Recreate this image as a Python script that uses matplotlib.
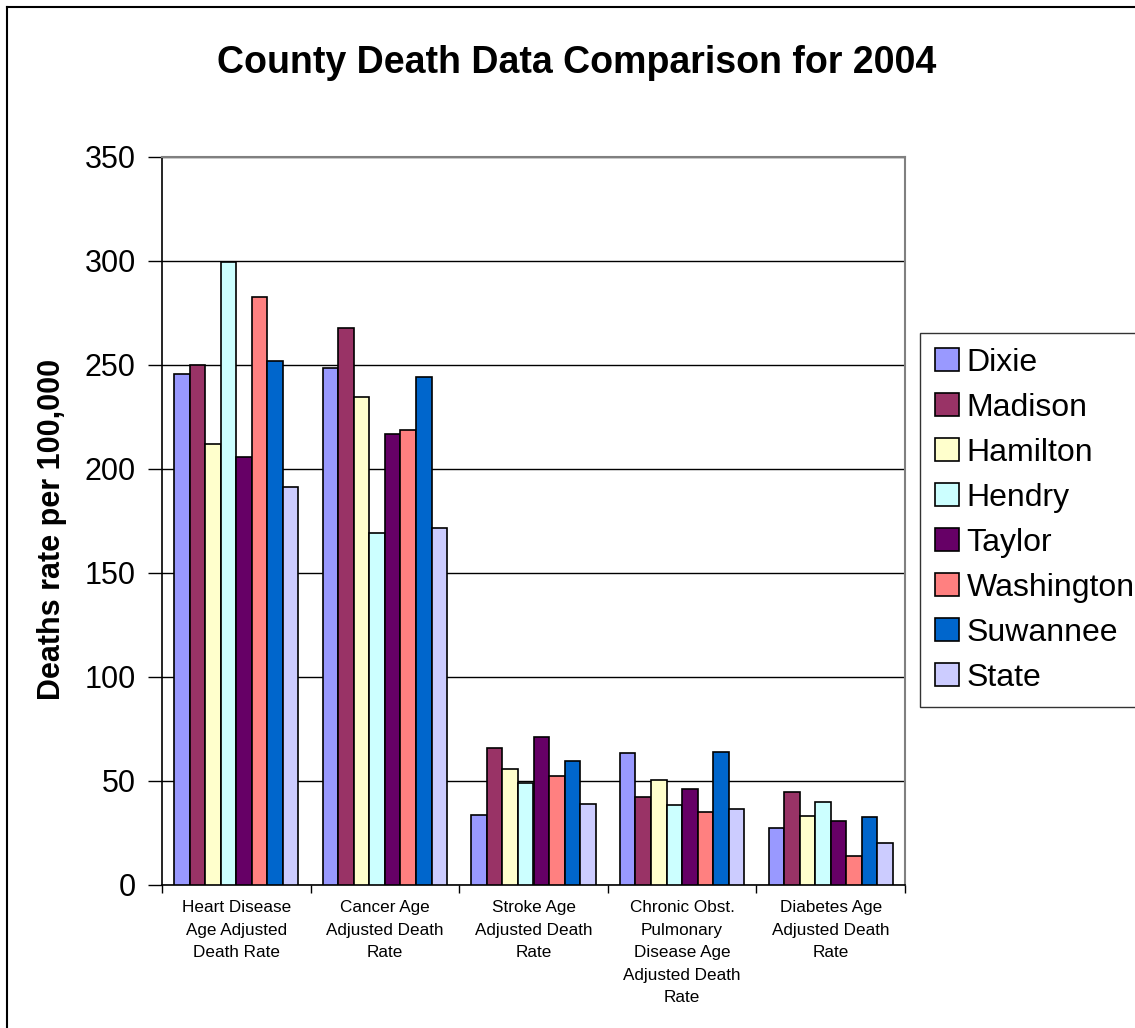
import matplotlib
matplotlib.use("Agg")
import matplotlib.pyplot as plt
from matplotlib.lines import Line2D
from matplotlib.patches import Patch
import numpy as np

plt.rcParams['font.family'] = ['Liberation Sans', 'DejaVu Sans']

categories = [
    "Heart Disease\nAge Adjusted\nDeath Rate",
    "Cancer Age\nAdjusted Death\nRate",
    "Stroke Age\nAdjusted Death\nRate",
    "Chronic Obst.\nPulmonary\nDisease Age\nAdjusted Death\nRate",
    "Diabetes Age\nAdjusted Death\nRate",
]

counties = ["Dixie", "Madison", "Hamilton", "Hendry", "Taylor",
            "Washington", "Suwannee", "State"]

dixie      = [245.5, 248.5, 33.8, 63.5, 27.4]
madison    = [250.0, 268.0, 65.9, 42.1, 44.9]
hamilton   = [212.0, 234.5, 55.6, 50.6, 33.2]
hendry     = [299.5, 169.0, 49.2, 38.3, 39.7]
taylor     = [205.6, 217.0, 71.3, 46.1, 30.8]
washington = [282.8, 218.6, 52.5, 35.1, 13.9]
suwannee   = [251.8, 244.0, 59.6, 64.1, 32.5]
state      = [191.5, 171.5, 39.1, 36.5, 20.2]

series = [dixie, madison, hamilton, hendry, taylor, washington, suwannee, state]

colors = ["#9999FF", "#993366", "#FFFFCC", "#CCFFFF", "#660066",
          "#FF8080", "#0066CC", "#CCCCFF"]

yticks = [0, 50, 100, 150, 200, 250, 300, 350]

W, H = 1135, 1028
fig = plt.figure(figsize=(W / 100, H / 100), dpi=100)
ax = fig.add_axes([162 / W, 1 - 885 / H, (905 - 162) / W, (885 - 157) / H])

n = len(series)
bar_w = 0.1046
x = np.arange(len(categories))
for i, (vals, c, name) in enumerate(zip(series, colors, counties)):
    offs = (i - (n - 1) / 2) * bar_w
    ax.bar(x + offs, vals, width=bar_w, color=c, edgecolor="black",
           linewidth=1.2, label=name, zorder=3)

ax.set_xlim(-0.5, len(categories) - 0.5)
ax.set_ylim(0, 350)
ax.set_yticks(yticks)
ax.set_yticklabels([str(t) for t in yticks], fontsize=22)
ax.tick_params(axis="y", length=10, width=1, pad=9, direction="out")
ax.yaxis.grid(True, color="black", linewidth=1, zorder=0)

# category boundaries carry the tick marks, centres carry the labels
ax.set_xticks(np.arange(-0.5, len(categories)), labels=[""] * (len(categories) + 1))
ax.tick_params(axis="x", which="major", length=6, width=1, direction="out")
ax.set_xticks(x, labels=categories, minor=True)
ax.tick_params(axis="x", which="minor", length=0, pad=11, labelsize=12.3)
for lbl in ax.get_xticklabels(minor=True):
    lbl.set_linespacing(1.62)
    lbl.set_multialignment("center")

for s in ("left", "bottom"):
    ax.spines[s].set_color("black")
    ax.spines[s].set_linewidth(1.2)
for s in ("top", "right"):
    ax.spines[s].set_color("#808080")
    ax.spines[s].set_linewidth(1.5)

ax.set_ylabel("Deaths rate per 100,000", fontsize=22, fontweight="bold")
ax.yaxis.set_label_coords((67 - 162) / (905 - 162), 0.489)

fig.text(577 / W, 1 - 63 / H, "County Death Data Comparison for 2004",
         fontsize=27, fontweight="bold", ha="center", va="center")

handles = [Patch(facecolor=c, edgecolor="black", linewidth=1.2) for c in colors]
leg = fig.legend(handles, counties, loc="upper left",
                 bbox_to_anchor=(920 / W, 1 - 333 / H), fontsize=23,
                 frameon=True, fancybox=False, edgecolor="black",
                 handlelength=0.75, handleheight=0.75, handletextpad=0.25,
                 labelspacing=0.47, borderpad=0.46, borderaxespad=0)
leg.get_frame().set_linewidth(1)

# outer chart border (left and top edges)
fig.add_artist(Line2D([7 / W, 7 / W], [0, 1 - 7 / H], color="black", linewidth=1.5))
fig.add_artist(Line2D([7 / W, 1], [1 - 7 / H, 1 - 7 / H], color="black", linewidth=1.5))

fig.savefig("out.png", dpi=100)
